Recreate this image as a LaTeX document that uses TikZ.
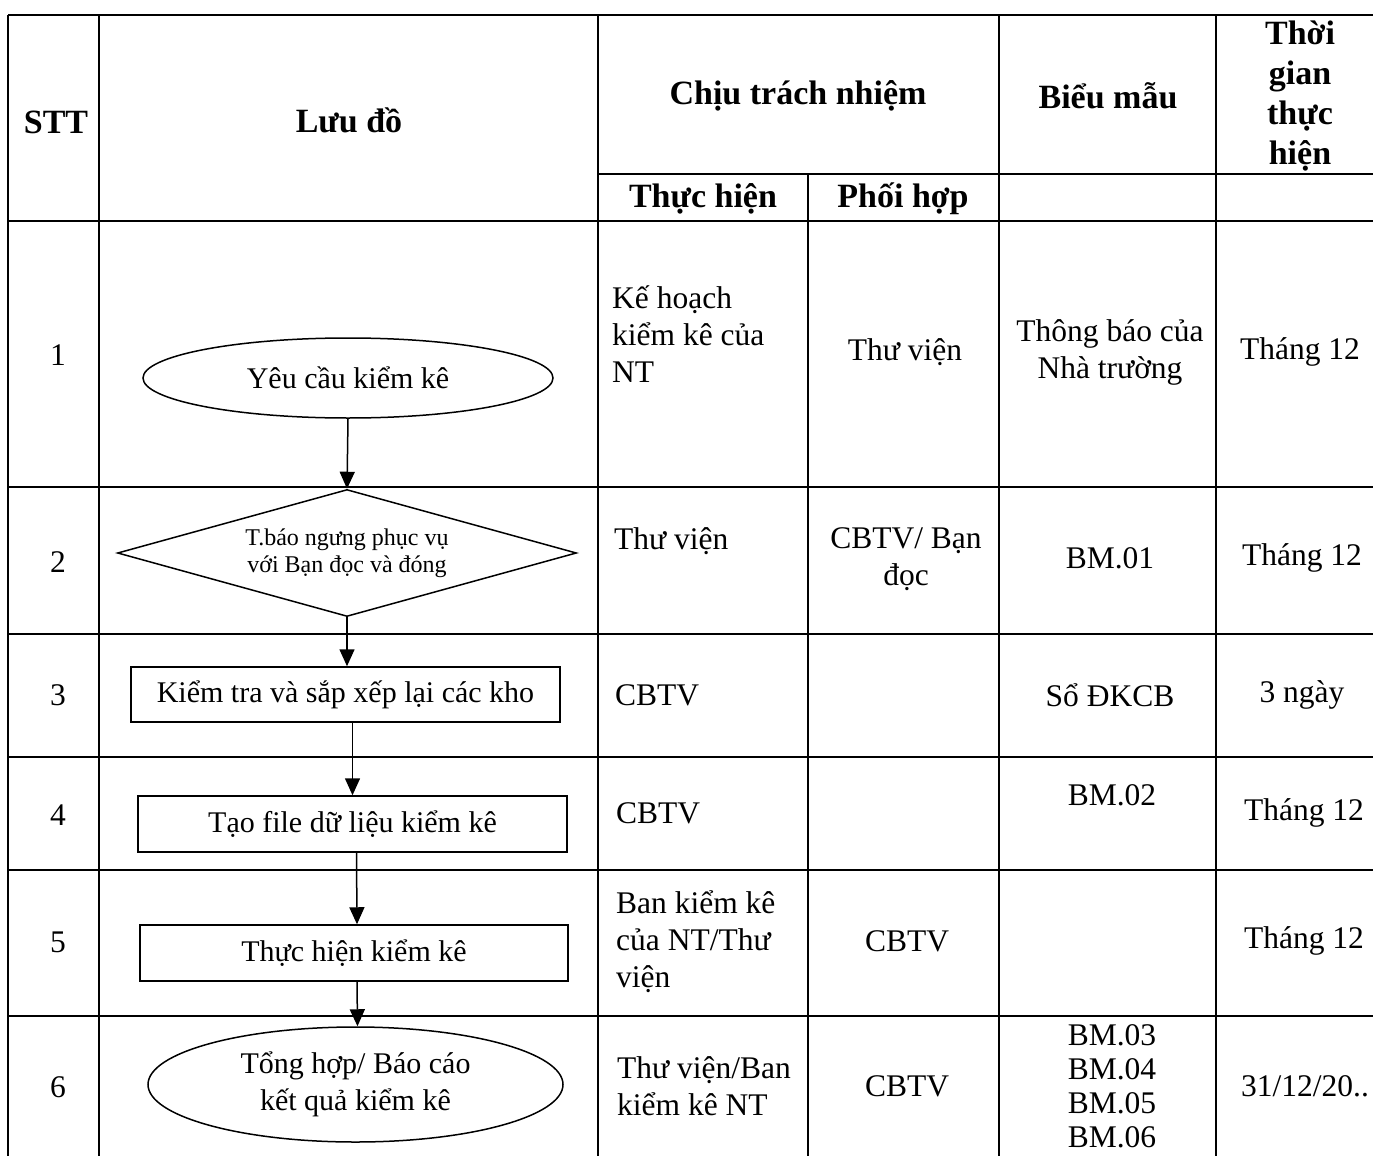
\documentclass[tikz,border=0pt]{standalone}
\usepackage{fontspec}
\setmainfont{Liberation Serif}
\usepackage{tikz}
\usetikzlibrary{shapes.geometric,arrows.meta,calc}

\tikzset{
  grid/.style={black, line width=1.6pt},
  cell/.style={inner sep=0pt, align=center, font=\fontsize{31.5}{37}\selectfont},
  head/.style={cell, font=\fontsize{34}{40}\selectfont\bfseries},
  lcell/.style={cell, anchor=west, align=left},
  shapetext/.style={inner sep=0pt, align=center, font=\fontsize{30}{37}\selectfont},
  term/.style={ellipse, draw, line width=1.5pt, shapetext},
  decide/.style={diamond, draw, line width=1.5pt, shapetext, aspect=3.614, font=\fontsize{24}{27}\selectfont},
  proc/.style={rectangle, draw, line width=1.5pt, shapetext},
  flow/.style={line width=1.5pt, -{Triangle[length=17pt,width=15pt]}}
}

\begin{document}
\begin{tikzpicture}[x=1pt,y=-1pt]
\useasboundingbox (0,0) rectangle (1373,1156);

% table lines
\foreach \y in {15,221,487,634,757,870,1016}
  \draw [grid] (8,\y) -- (1373,\y);
\draw [grid] (598,174) -- (1373,174);
\foreach \x in {8,99,598,999,1216}
  \draw [grid] (\x,15) -- (\x,1156);
\draw [grid] (808,174) -- (808,1156);

% header
\node [head] (hstt) at (56,122) {STT};
\node [head] (hluu) at (349,120) {Lưu đồ};
\node [head] (hchiu) at (798,96) {Chịu trách nhiệm};
\node [head] (hthuc) at (703,199) {Thực hiện};
\node [head] (hphoi) at (903,199) {Phối hợp};
\node [head] (hbieu) at (1108,96) {Biểu mẫu};
\node [head] (hthoi) at (1300,96) {Thời\\gian\\thực\\hiện};

% numbers
\foreach \n/\y in {1/355,2/562,3/695,4/815,5/942,6/1087}
  \node [cell] (stt\n) at (58,\y) {\n};

% flow chart
\node [term, minimum width=410pt, minimum height=80pt] (yeucau) at (348,378) {Yêu cầu kiểm kê};
\node [decide, minimum width=459pt, minimum height=127pt] (tbao) at (347,553) {T.báo ngưng phục vụ\\với Bạn đọc và đóng};
\node [proc, minimum width=429pt, minimum height=55pt] (ktra) at (345.5,694.5) {Kiểm tra và sắp xếp lại các kho};
\node [proc, minimum width=429pt, minimum height=56pt] (taofile) at (352.5,824) {Tạo file dữ liệu kiểm kê};
\node [proc, minimum width=428pt, minimum height=56pt] (thuchien) at (354,953) {Thực hiện kiểm kê};
\node [term, minimum width=415pt, minimum height=115pt] (tonghop) at (355.5,1084.5) {Tổng hợp/ Báo cáo\\kết quả kiểm kê};

\draw [flow] (yeucau.south) -- (tbao.north);
\draw [flow] (tbao.south) -- (tbao.south |- ktra.north);
\draw [flow] (ktra.south -| taofile.north) -- (taofile.north);
\draw [flow] ($(taofile.south)+(4,0)$) -- ($(thuchien.north)+(3,0)$);
\draw [flow] ($(thuchien.south)+(3,0)$) -- ($(tonghop.north)+(2,0)$);

% row 1
\node [lcell] (th1) at (612,334) {Kế hoạch\\kiểm kê của\\NT};
\node [cell] (ph1) at (905,352) {Thư viện};
\node [cell] (bm1) at (1110,352) {Thông báo của\\Nhà trường};
\node [cell] (tg1) at (1300,352) {Tháng 12};

% row 2
\node [lcell] (th2) at (614,541) {Thư viện};
\node [cell] (ph2) at (906,559) {CBTV/ Bạn\\đọc};
\node [cell] (bm2) at (1110,558) {BM.01};
\node [cell] (tg2) at (1302,558) {Tháng 12};

% row 3
\node [lcell] (th3) at (615,695) {CBTV};
\node [cell] (bm3) at (1110,695) {Sổ ĐKCB};
\node [cell] (tg3) at (1302,695) {3 ngày};

% row 4
\node [lcell] (th4) at (616,813) {CBTV};
\node [cell] (bm4) at (1112,795) {BM.02};
\node [cell] (tg4) at (1304,813) {Tháng 12};

% row 5
\node [lcell] (th5) at (616,942) {Ban kiểm kê\\của NT/Thư\\viện};
\node [cell] (ph5) at (907,941) {CBTV};
\node [cell] (tg5) at (1304,941) {Tháng 12};

% row 6
\node [lcell] (th6) at (617,1086) {Thư viện/Ban\\kiểm kê NT};
\node [cell] (ph6) at (907,1086) {CBTV};
\node [cell, font=\fontsize{31.5}{34}\selectfont] (bm6) at (1112,1086) {BM.03\\BM.04\\BM.05\\BM.06};
\node [cell] (tg6) at (1305,1086) {31/12/20..};

\end{tikzpicture}
\end{document}
